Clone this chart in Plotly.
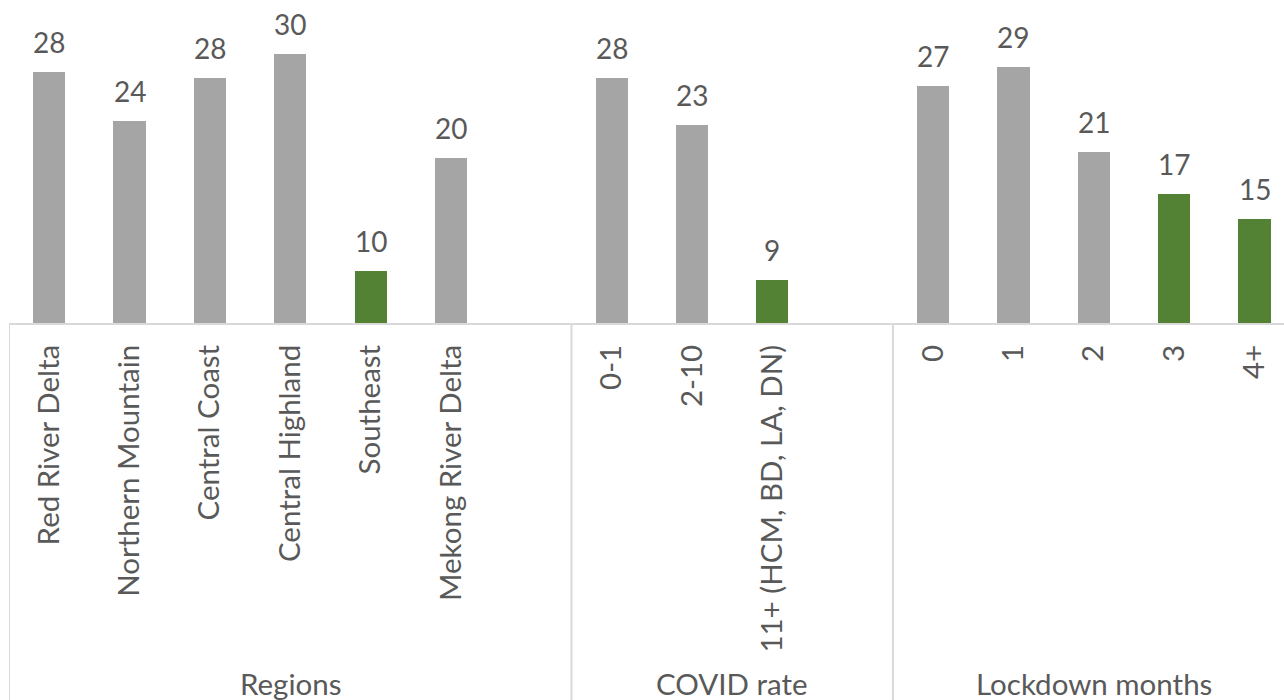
import plotly.graph_objects as go

# ---- data ----
region_labels = ["Red River Delta", "Northern Mountain", "Central Coast",
                 "Central Highland", "Southeast", "Mekong River Delta"]
region_values = [28.35, 23.8, 27.75, 29.95, 9.85, 20.35]
region_colors = ["grey", "grey", "grey", "grey", "green", "grey"]

covid_labels = ["0-1", "2-10", "11+ (HCM, BD, LA, DN)"]
covid_values = [27.75, 23.35, 8.95]
covid_colors = ["grey", "grey", "green"]

lockdown_labels = ["0", "1", "2", "3", "4+"]
lockdown_values = [27.05, 28.75, 20.85, 17.0, 14.7]
lockdown_colors = ["grey", "grey", "grey", "green", "green"]

group_names = ["Regions", "COVID rate", "Lockdown months"]

# ---- styling ----
GREY = "#A5A5A5"
GREEN = "#548235"
TEXT = "#595959"
LINE = "#D9D9D9"
FONT = "Lato"
FS = 28
FS_AX = 29.5
cmap = {"grey": GREY, "green": GREEN}

# build slot positions: each group followed by one empty slot
groups = [(region_labels, region_values, region_colors),
          (covid_labels, covid_values, covid_colors),
          (lockdown_labels, lockdown_values, lockdown_colors)]
xs, ys, cols, texts = [], [], [], []
bounds = []
pos = 0
for labels, vals, colors in groups:
    start = pos
    for l, v, c in zip(labels, vals, colors):
        xs.append(pos); ys.append(v); cols.append(cmap[c]); texts.append(l)
        pos += 1
    pos += 1  # blank slot separating groups
    bounds.append((start - 0.5, pos - 0.5))
# last group has no trailing blank
bounds[-1] = (bounds[-1][0], bounds[-1][1] - 1)

fig = go.Figure()
fig.add_trace(go.Bar(x=xs, y=ys, marker=dict(color=cols, line=dict(width=0)),
                     width=0.4, hoverinfo="skip"))

for x, y in zip(xs, ys):
    fig.add_annotation(x=x, y=y, text=f"{round(y)}", showarrow=False,
                       xref="x", yref="y", yanchor="bottom", yshift=11,
                       font=dict(family=FONT, size=FS, color=TEXT))

PLOT_H = 323
H = 700
bottom_paper = -(H - PLOT_H) / PLOT_H
for (a, b), name in zip(bounds, group_names):
    fig.add_annotation(x=(a + b) / 2, y=-(683 - PLOT_H) / PLOT_H, xref="x", yref="paper",
                       text=name, showarrow=False, yanchor="middle",
                       font=dict(family=FONT, size=FS_AX, color=TEXT))

edges = sorted(set([b[0] for b in bounds] + [b[1] for b in bounds]))
for e in edges:
    fig.add_shape(type="line", xref="x", yref="paper", x0=e, x1=e, y0=0, y1=bottom_paper,
                  line=dict(color=LINE, width=2), layer="below")

slot = 80.38
x_left = -0.5
x_right = x_left + (1284 - 8.66) / slot

fig.update_layout(
    width=1284, height=H,
    margin=dict(l=9, r=0, t=0, b=H - PLOT_H, pad=0),
    plot_bgcolor="white", paper_bgcolor="white",
    showlegend=False, bargap=0,
    font=dict(family=FONT, size=FS, color=TEXT),
    xaxis=dict(range=[x_left, x_right], tickmode="array", tickvals=xs, ticktext=texts,
               tickangle=-90, tickfont=dict(family=FONT, size=FS_AX, color=TEXT),
               ticklabelstandoff=8,
               showgrid=False, zeroline=False, ticks="", showline=True,
               linecolor=LINE, linewidth=2, fixedrange=True),
    yaxis=dict(range=[5, 35], visible=False, fixedrange=True),
)

fig.write_html("out.html")
